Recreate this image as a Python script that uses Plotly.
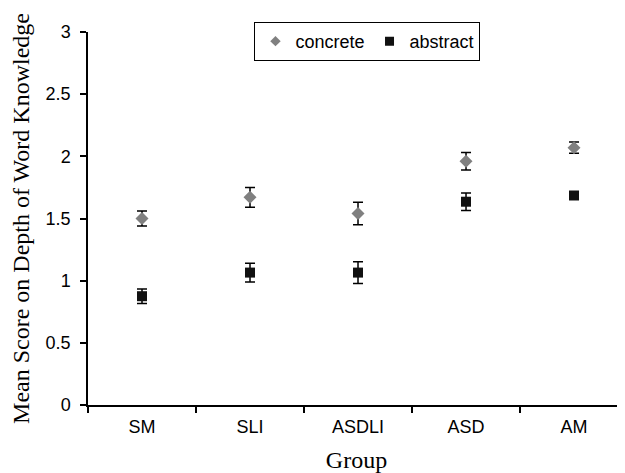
import plotly.graph_objects as go

groups = ["SM", "SLI", "ASDLI", "ASD", "AM"]
concrete = [1.50, 1.67, 1.54, 1.96, 2.07]
concrete_err = [0.06, 0.08, 0.09, 0.07, 0.045]
abstract = [0.875, 1.065, 1.065, 1.635, 1.685]
abstract_err = [0.058, 0.075, 0.087, 0.07, 0.03]

GRAY = "#808080"
BLACK = "#111111"

fig = go.Figure()
fig.add_trace(go.Scatter(
    x=groups, y=concrete, mode="markers", name="concrete", showlegend=False,
    marker=dict(symbol="diamond", size=10, color=GRAY),
    error_y=dict(type="data", array=concrete_err, color="#000000", thickness=1.5, width=5),
))
fig.add_trace(go.Scatter(
    x=groups, y=abstract, mode="markers", name="abstract", showlegend=False,
    marker=dict(symbol="square", size=10, color=BLACK),
    error_y=dict(type="data", array=abstract_err, color="#000000", thickness=1.5, width=5),
))
# legend entries (smaller symbols like the reference)
fig.add_trace(go.Scatter(x=[None], y=[None], mode="markers", name="concrete",
                         marker=dict(symbol="diamond", size=8, color=GRAY)))
fig.add_trace(go.Scatter(x=[None], y=[None], mode="markers", name="abstract",
                         marker=dict(symbol="square", size=9, color=BLACK)))

fig.update_layout(
    width=617, height=465,
    margin=dict(l=80, r=0, t=24, b=68),
    plot_bgcolor="white", paper_bgcolor="white",
    font=dict(family="Liberation Sans, Arial", size=18, color="#000000"),
    showlegend=True,
    legend=dict(
        orientation="h", x=0.31, y=1.027, xanchor="left", yanchor="top",
        bordercolor="#000000", borderwidth=1, bgcolor="white",
        font=dict(family="Liberation Sans, Arial", size=18),
        itemwidth=30, tracegroupgap=0,
    ),
)
fig.update_xaxes(
    range=[-0.5, 4.472], showline=True, linecolor="#000000", linewidth=1.5,
    ticks="outside", ticklen=6, tickwidth=1.5, tickcolor="#000000",
    tickson="boundaries", showgrid=False, zeroline=False,
    ticklabelstandoff=5,
    title=dict(text="Group", font=dict(family="Liberation Serif, Times New Roman", size=24), standoff=16),
)
fig.update_yaxes(
    range=[0, 3], dtick=0.5, tick0=0, showline=True, linecolor="#000000", linewidth=1.5,
    ticks="outside", ticklen=6, tickwidth=1.5, tickcolor="#000000",
    ticklabelstandoff=6,
    showgrid=False, zeroline=False,
    title=dict(text="Mean Score on Depth of Word Knowledge",
               font=dict(family="Liberation Serif, Times New Roman", size=24), standoff=9),
)

fig.write_html("out.html")
